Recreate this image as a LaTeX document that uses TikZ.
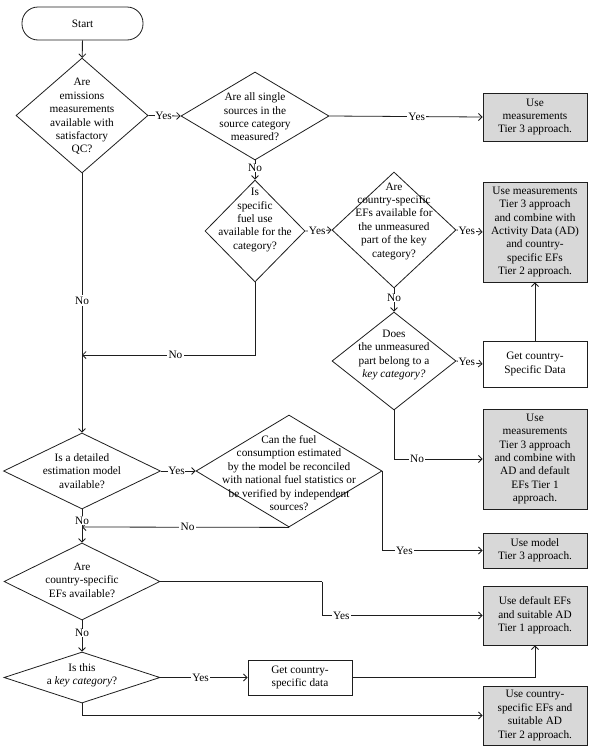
\documentclass[tikz,border=0pt]{standalone}
\usepackage{fontspec}
\setmainfont{Liberation Serif}
\usetikzlibrary{shapes.geometric,arrows.meta}
\definecolor{boxgray}{RGB}{216,216,216}
\definecolor{ink}{RGB}{30,30,30}
\tikzset{
  dia/.style={diamond,draw=ink,line width=0.8pt,inner sep=0pt,aspect=1},
  txt/.style={align=center,inner sep=0pt,font=\fontsize{11.3}{13.4}\selectfont},
  result/.style={rectangle,draw=ink,line width=0.9pt,fill=boxgray,align=center,inner sep=0pt,
    minimum width=104pt,font=\fontsize{11.3}{13.4}\selectfont},
  plain/.style={rectangle,draw=ink,line width=0.9pt,fill=white,align=center,inner sep=0pt,
    minimum width=104pt,font=\fontsize{11.3}{13.4}\selectfont},
  term/.style={rectangle,draw=ink,line width=0.8pt,rounded corners=16pt,minimum width=121pt,
    minimum height=33pt,font=\fontsize{11.3}{13}\selectfont},
  arr/.style={draw=ink,line width=0.8pt,-{Straight Barb[length=3.5pt,width=7pt]}},
  ln/.style={draw=ink,line width=0.8pt},
  lbl/.style={fill=white,inner sep=1.5pt,font=\fontsize{11.3}{13}\selectfont}
}
\begin{document}
\begin{tikzpicture}[x=1pt,y=-1pt]
\useasboundingbox[fill=white] (0,0) rectangle (600,755);
% start
\node[term] (start) at (82.5,23.5) {Start};
% diamonds
\node[dia,minimum width=132pt,minimum height=115pt] (d1) at (82,115.5) {};
\node[txt] (d1t) at (82,116.5) {Are\\emissions\\measurements\\available with\\satisfactory\\QC?};
\node[dia,minimum width=148pt,minimum height=88pt] (d2) at (255,116) {};
\node[txt] (d2t) at (255,117) {Are all single\\sources in the\\source category\\measured?};
\node[dia,minimum width=100pt,minimum height=102pt] (d3) at (255,231) {};
\node[txt] (d3t) at (255,220) {Is\\specific\\fuel use\\available for the\\category?};
\node[dia,minimum width=124pt,minimum height=116pt] (d4) at (394,230) {};
\node[txt] (d4t) at (394,221) {Are\\country-specific\\EFs available for\\the unmeasured\\part of the key\\category?};
\node[dia,minimum width=124pt,minimum height=98pt] (d5) at (394,361) {};
\node[txt] (d5t) at (394,355) {Does\\the unmeasured\\part belong to a\\\textit{key category?}};
\node[dia,minimum width=157pt,minimum height=76pt] (d6) at (82,471) {};
\node[txt] (d6t) at (82,471) {Is a detailed\\estimation model\\available?};
\node[dia,minimum width=186pt,minimum height=112pt] (d7) at (289,471) {};
\node[txt] (d7t) at (289,473) {Can the fuel\\consumption estimated\\by the model be reconciled\\with national fuel statistics or\\be verified by independent\\sources?};
\node[dia,minimum width=156pt,minimum height=77pt] (d8) at (82,581.5) {};
\node[txt] (d8t) at (82,580) {Are\\country-specific\\EFs available?};
\node[dia,minimum width=156pt,minimum height=51pt] (d9) at (82,677.5) {};
\node[txt] (d9t) at (82,675.5) {Is this\\a \textit{key category}?};
% boxes
\node[result,minimum height=48pt] (B1) at (535,117) {Use\\measurements\\Tier 3 approach.};
\node[result,minimum height=100pt] (B2) at (535,232) {Use measurements\\Tier 3 approach\\and combine with\\Activity Data (AD)\\and country-\\specific EFs\\Tier 2 approach.};
\node[plain,minimum height=46pt] (G1) at (535,364) {Get country-\\Specific Data};
\node[result,minimum height=100pt] (B3) at (535,459) {Use\\measurements\\Tier 3 approach\\and combine with\\AD and default\\EFs Tier 1\\approach.};
\node[result,minimum height=35pt] (B4) at (535,550.5) {Use model\\Tier 3 approach.};
\node[result,minimum height=59pt] (B5) at (535,615.5) {Use default EFs\\and suitable AD\\Tier 1 approach.};
\node[result,minimum height=59pt] (B6) at (535,715.5) {Use country-\\specific EFs and\\suitable AD\\Tier 2 approach.};
\node[plain,minimum height=35pt] (G2) at (300,677.5) {Get country-\\specific data};
% bend coordinates
\coordinate (k3) at (82,355);
\coordinate (k7) at (82,527);
\coordinate (k8) at (322,581.5);
% connectors
\draw[arr] (start) -- (d1);
\draw[arr] (d1.east) -- node[lbl,pos=0.47,inner sep=0.5pt]{Yes} (d2.west);
\draw[arr] (d2.east) -- node[lbl,pos=0.57]{Yes} (B1.west);
\draw[arr] (d2.south) -- node[lbl,pos=0.4,inner sep=0.5pt]{No} (d3.north);
\draw[arr] (d3.east) -- node[lbl,pos=0.45,inner sep=0.5pt]{Yes} (d4.west);
\draw[arr] (d4.east) -- node[lbl,pos=0.4,inner sep=0.5pt]{Yes} (B2.west);
\draw[arr] (d4.south) -- node[lbl,pos=0.42,inner sep=0.5pt]{No} (d5.north);
\draw[arr] (d5.east) -- node[lbl,pos=0.4,inner sep=0.5pt]{Yes} (G1.west);
\draw[arr] (G1.north) -- (B2.south);
\draw[arr] (d3.south) |- node[lbl,pos=0.73]{No} (k3);
\draw[arr] (d5.south) |- node[lbl,pos=0.63]{No} (B3.west);
\draw[arr] (d1.south) -- node[lbl,pos=0.49]{No} (d6.north);
\draw[arr] (d6.east) -- node[lbl,pos=0.45,inner sep=0.5pt]{Yes} (d7.west);
\draw[arr] (d7.south) -- node[lbl,pos=0.49]{No} (k7);
\draw[arr] (d7.east) |- node[lbl,pos=0.61]{Yes} (B4.west);
\draw[arr] (d6.south) -- node[lbl,pos=0.33,inner sep=0.5pt]{No} (d8.north);
\draw[ln] (d8.east) -- (k8);
\draw[arr] (k8) |- node[lbl,pos=0.56]{Yes} (B5.west);
\draw[arr] (d8.south) -- node[lbl,pos=0.4,inner sep=0.5pt]{No} (d9.north);
\draw[arr] (d9.east) -- node[lbl,pos=0.46]{Yes} (G2.west);
\draw[arr] (G2.east) -| (B5.south);
\draw[arr] (d9.south) |- (B6.west);
\end{tikzpicture}
\end{document}
